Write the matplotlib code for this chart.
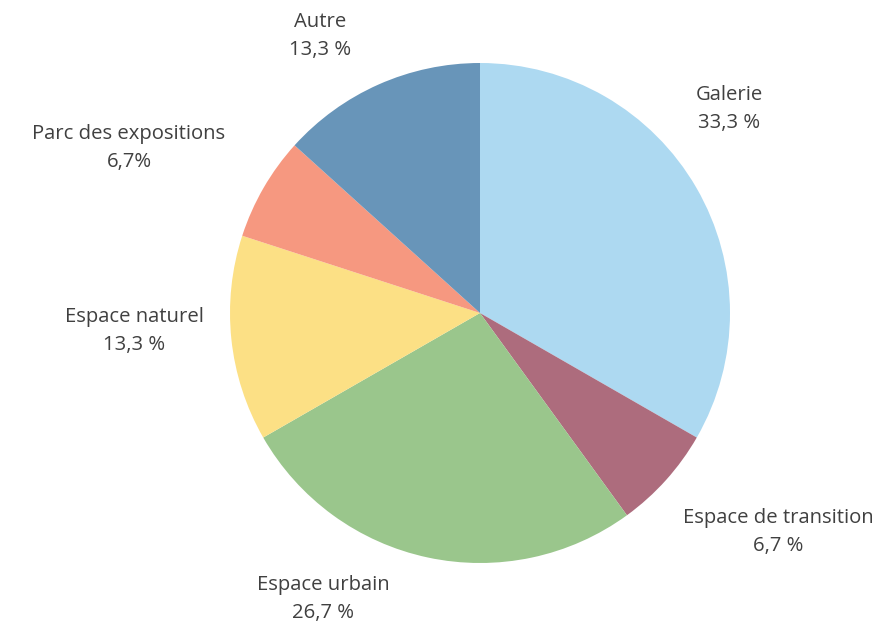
import matplotlib
matplotlib.use("Agg")
import matplotlib.pyplot as plt

# Data
categories = ["Galerie", "Espace de transition", "Espace urbain",
              "Espace naturel", "Parc des expositions", "Autre"]
values = [33.3, 6.7, 26.7, 13.3, 6.7, 13.3]
pct_labels = ["33,3 %", "6,7 %", "26,7 %", "13,3 %", "6,7%", "13,3 %"]

colors = ["#ADD9F1", "#AD6C7D", "#9AC68C", "#FCE085", "#F69880", "#6895B9"]

# label centres in pie-radius units (pie centre at 0,0)
label_pos = [(0.996, 0.816), (1.192, -0.876), (-0.628, -1.144),
             (-1.384, -0.072), (-1.404, 0.66), (-0.64, 1.108)]

plt.rcParams["font.family"] = ["Open Sans", "DejaVu Sans"]

fig = plt.figure(figsize=(8.94, 6.27), dpi=100)
ax = fig.add_axes([0, 0, 1, 1])

ax.pie(values, colors=colors, startangle=90, counterclock=False,
       radius=1.0, wedgeprops=dict(linewidth=0))

for name, pct, (x, y) in zip(categories, pct_labels, label_pos):
    ax.text(x, y, name + "\n" + pct, ha="center", va="center",
            fontsize=14.6, color="#404040", linespacing=1.55)

ax.set_xlim(-480 / 250, (894 - 480) / 250)
ax.set_ylim((313 - 627) / 250, 313 / 250)
ax.set_aspect("auto")
ax.axis("off")

fig.savefig("out.png", dpi=100)
